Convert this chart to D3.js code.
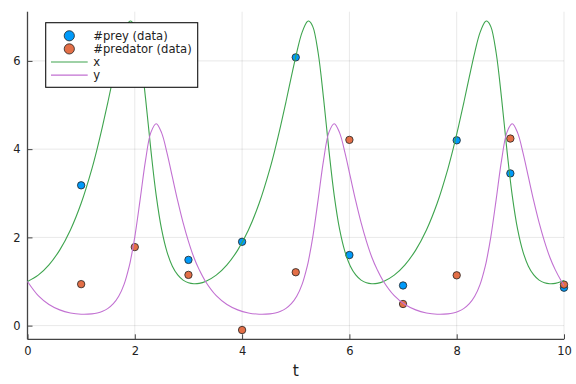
<!DOCTYPE html>
<html>
<head>
<meta charset="utf-8">
<script src="https://d3js.org/d3.v7.min.js"></script>
<style>
  body { margin: 0; background: #fff; }
  text { font-family: "DejaVu Sans", sans-serif; }
</style>
</head>
<body>
<svg id="plot" width="576" height="384"></svg>
<script>
// scatter data (t = 1..10)
const tData = [1, 2, 3, 4, 5, 6, 7, 8, 9, 10];
const preyData = [3.18, 6.30, 1.49, 1.90, 6.08, 1.60, 0.91, 4.20, 3.45, 0.86];
const predatorData = [0.94, 1.78, 1.15, -0.10, 1.21, 4.21, 0.49, 1.14, 4.24, 0.93];

// solution curves
const tCurve = [0, 0.2, 0.4, 0.6, 0.8, 1.0, 1.2, 1.3, 1.4, 1.5, 1.6, 1.7, 1.8, 1.9, 1.925, 2.0, 2.1, 2.2, 2.3, 2.4, 2.5, 2.6, 2.7, 2.8, 2.9, 3.0, 3.1, 3.2,
  3.318, 3.518, 3.718, 3.918, 4.118, 4.318, 4.518, 4.618, 4.718, 4.818, 4.918, 5.018, 5.118, 5.218, 5.243, 5.318, 5.418, 5.518, 5.618, 5.718, 5.818, 5.918, 6.018, 6.118, 6.218, 6.318, 6.418, 6.518,
  6.636, 6.836, 7.036, 7.236, 7.436, 7.636, 7.836, 7.936, 8.036, 8.136, 8.236, 8.336, 8.436, 8.536, 8.561, 8.636, 8.736, 8.836, 8.936, 9.036, 9.136, 9.236, 9.336, 9.436, 9.536, 9.636, 9.736, 9.836,
  9.954, 10];
const xCurve = [1.000, 1.144, 1.378, 1.712, 2.168, 2.773, 3.554, 4.016, 4.526, 5.074, 5.642, 6.190, 6.646, 6.894, 6.903, 6.777, 6.179, 5.155, 3.977, 2.941, 2.179, 1.671, 1.348, 1.149, 1.032, 0.970, 0.949, 0.957,
  1.000, 1.144, 1.378, 1.712, 2.168, 2.773, 3.554, 4.016, 4.526, 5.074, 5.642, 6.190, 6.646, 6.894, 6.903, 6.777, 6.179, 5.155, 3.977, 2.941, 2.179, 1.671, 1.348, 1.149, 1.032, 0.970, 0.949, 0.957,
  1.000, 1.144, 1.378, 1.712, 2.168, 2.773, 3.554, 4.016, 4.526, 5.074, 5.642, 6.190, 6.646, 6.894, 6.903, 6.777, 6.179, 5.155, 3.977, 2.941, 2.179, 1.671, 1.348, 1.149, 1.032, 0.970, 0.949, 0.957,
  1.000, 1.023];
const yCurve = [1.000, 0.679, 0.479, 0.357, 0.288, 0.259, 0.267, 0.288, 0.327, 0.391, 0.496, 0.664, 0.935, 1.366, 1.506, 2.012, 2.861, 3.746, 4.380, 4.577, 4.369, 3.917, 3.370, 2.826, 2.334, 1.910, 1.550, 1.269,
  1.000, 0.679, 0.479, 0.357, 0.288, 0.259, 0.267, 0.288, 0.327, 0.391, 0.496, 0.664, 0.935, 1.366, 1.506, 2.012, 2.861, 3.746, 4.380, 4.577, 4.369, 3.917, 3.370, 2.826, 2.334, 1.910, 1.550, 1.269,
  1.000, 0.679, 0.479, 0.357, 0.288, 0.259, 0.267, 0.288, 0.327, 0.391, 0.496, 0.664, 0.935, 1.366, 1.506, 2.012, 2.861, 3.746, 4.380, 4.577, 4.369, 3.917, 3.370, 2.826, 2.334, 1.910, 1.550, 1.269,
  1.000, 0.910];

const xTicks = [0, 2, 4, 6, 8, 10];
const yTicks = [0, 2, 4, 6];
const legendLabels = ['#prey (data)', '#predator (data)', 'x', 'y'];

const cBlue = '#009afa', cOrange = '#e36f47', cGreen = '#3ea44e', cPurple = '#c271d2';

const svg = d3.select('#plot');
const pLeft = 27.5, pRight = 564, pTop = 11.7, pBottom = 339.3;

const sx = d3.scaleLinear().domain([0, 10]).range([pLeft, pRight]);
const sy = d3.scaleLinear().domain([-0.31, 7.115]).range([pBottom, pTop]);

// grid
svg.append('g').selectAll('line').data(xTicks).join('line')
  .attr('x1', d => sx(d)).attr('x2', d => sx(d))
  .attr('y1', pTop).attr('y2', pBottom)
  .attr('stroke', '#000').attr('stroke-opacity', 0.09).attr('stroke-width', 1);
svg.append('g').selectAll('line').data(yTicks).join('line')
  .attr('x1', pLeft).attr('x2', pRight)
  .attr('y1', d => sy(d)).attr('y2', d => sy(d))
  .attr('stroke', '#000').attr('stroke-opacity', 0.09).attr('stroke-width', 1);

// axes
let xAxis = svg.append('g').attr('transform', 'translate(0,' + pBottom + ')')
  .call(d3.axisBottom(sx).tickValues(xTicks).tickSizeInner(-5).tickSizeOuter(0).tickPadding(8).tickFormat(d3.format('d')));
let yAxis = svg.append('g').attr('transform', 'translate(' + pLeft + ',0)')
  .call(d3.axisLeft(sy).tickValues(yTicks).tickSizeInner(-5).tickSizeOuter(0).tickPadding(7).tickFormat(d3.format('d')));
[xAxis, yAxis].forEach(a => {
  a.select('.domain').attr('stroke', '#444').attr('stroke-width', 1.3);
  a.selectAll('.tick line').attr('stroke', '#444').attr('stroke-width', 1);
  a.selectAll('.tick text').attr('font-size', '11.5px').attr('fill', '#222')
    .attr('font-family', '"DejaVu Sans", sans-serif');
});
yAxis.select('.domain').attr('d', 'M0,' + pTop + 'V' + pBottom);
xAxis.select('.domain').attr('d', 'M' + pLeft + ',0H' + pRight);

svg.append('text')
  .attr('x', (pLeft + pRight) / 2).attr('y', 376)
  .attr('text-anchor', 'middle').attr('font-size', '15.5px').attr('fill', '#222')
  .text('t');

// scatter
function drawPoints(vals, color) {
  svg.append('g').selectAll('circle').data(tData).join('circle')
    .attr('cx', d => sx(d)).attr('cy', (d, i) => sy(vals[i]))
    .attr('r', 3.7)
    .attr('fill', color)
    .attr('stroke', '#222').attr('stroke-width', 0.8);
}
drawPoints(preyData, cBlue);
drawPoints(predatorData, cOrange);

// curves
function drawCurve(vals, color) {
  let line = d3.line()
    .x((d, i) => sx(tCurve[i]))
    .y((d, i) => sy(vals[i]))
    .curve(d3.curveCatmullRom.alpha(0.5));
  svg.append('path').datum(vals)
    .attr('d', line)
    .attr('fill', 'none')
    .attr('stroke', color)
    .attr('stroke-width', 1.1);
}
drawCurve(xCurve, cGreen);
drawCurve(yCurve, cPurple);

// legend
let lg = svg.append('g');
lg.append('rect')
  .attr('x', 45.7).attr('y', 22.7).attr('width', 152).attr('height', 64.6)
  .attr('fill', '#fff').attr('stroke', '#111').attr('stroke-width', 1.1);
let rowY = [35.8, 48.9, 62.0, 75.1];
lg.selectAll('text').data(legendLabels).join('text')
  .attr('x', 93.3).attr('y', (d, i) => rowY[i] + 4.2)
  .attr('font-size', '11.6px').attr('fill', '#222')
  .text(d => d);
[cBlue, cOrange].forEach((c, i) => {
  lg.append('circle').attr('cx', 69.3).attr('cy', rowY[i]).attr('r', 5.1)
    .attr('fill', c).attr('stroke', '#222').attr('stroke-width', 0.8);
});
[cGreen, cPurple].forEach((c, i) => {
  lg.append('line').attr('x1', 51).attr('x2', 87.7)
    .attr('y1', rowY[i + 2]).attr('y2', rowY[i + 2])
    .attr('stroke', c).attr('stroke-width', 1.1);
});
</script>
</body>
</html>
